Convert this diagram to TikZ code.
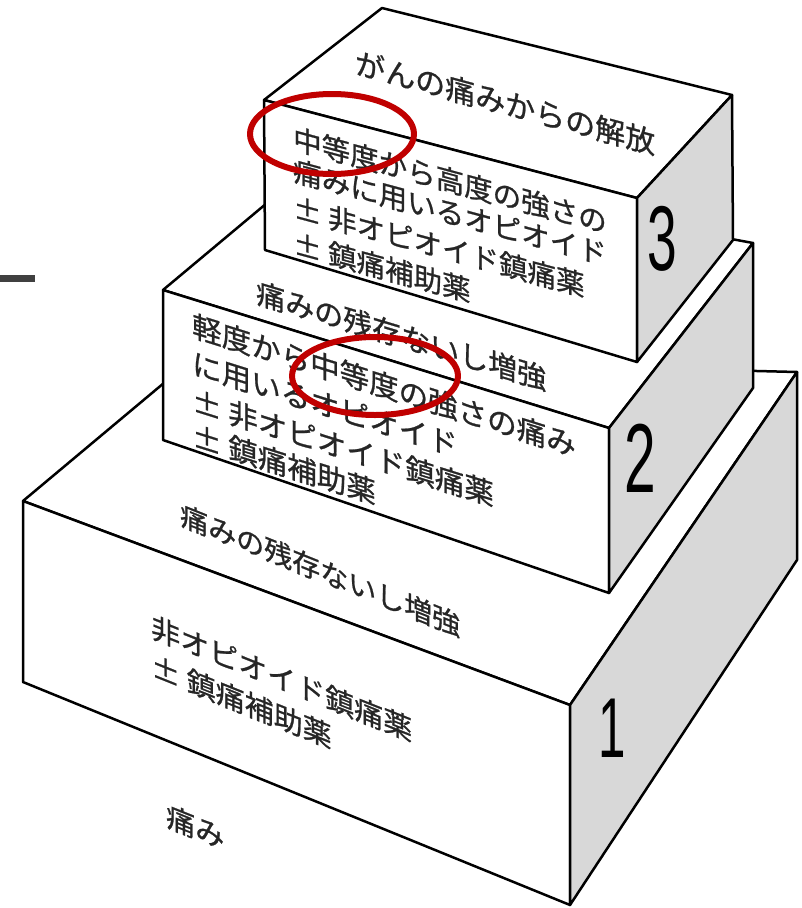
\documentclass[tikz,border=0pt]{standalone}
\usepackage{fontspec}
\newfontfamily\jpfont[FakeBold=0.8]{Noto Sans CJK JP}
\newfontfamily\numfont{Liberation Sans}
\definecolor{sidegray}{RGB}{216,216,216}
\definecolor{ringred}{RGB}{192,0,0}
\definecolor{bardark}{RGB}{64,64,64}
\begin{document}
\begin{tikzpicture}[x=1pt,y=-1pt,line join=round,
  face/.style={draw=black,line width=2.5pt,fill=white},
  sideface/.style={draw=black,line width=2.5pt,fill=sidegray},
  jt/.style={font=\jpfont\fontsize{#1}{#1}\selectfont,inner sep=0pt,anchor=west,text=black!85},
  digit/.style={font=\numfont\fontsize{#1}{#1}\selectfont,inner sep=0pt,text=black,xscale=0.58},
  ring/.style={draw=ringred,line width=6pt}]
\useasboundingbox (0,0) rectangle (802,908);

% box 1 corners
\coordinate (A1) at (23,501);
\coordinate (B1) at (570,705);
\coordinate (C1) at (570,905);
\coordinate (D1) at (23,682);
\coordinate (E1) at (195,357);
\coordinate (F1) at (797,372);
\coordinate (G1) at (797,560);
% box 2 corners
\coordinate (A2) at (163,290);
\coordinate (B2) at (609,428);
\coordinate (C2) at (609,593);
\coordinate (D2) at (163,440);
\coordinate (E2) at (316,162);
\coordinate (F2) at (753,243);
\coordinate (G2) at (753,388);
% box 3 corners
\coordinate (A3) at (264,100);
\coordinate (B3) at (637,198);
\coordinate (C3) at (637,362);
\coordinate (D3) at (265,250);
\coordinate (E3) at (382,8);
\coordinate (F3) at (732,95);
\coordinate (G3) at (733,240);

\fill[bardark] (0,275) rectangle (35,282);

% box 1
\draw[face] (A1) -- (E1) -- (F1) -- (B1) -- cycle;
\draw[face] (A1) -- (B1) -- (C1) -- (D1) -- cycle;
\draw[sideface] (B1) -- (F1) -- (G1) -- (C1) -- cycle;
% box 2
\draw[face] (A2) -- (E2) -- (F2) -- (B2) -- cycle;
\draw[face] (A2) -- (B2) -- (C2) -- (D2) -- cycle;
\draw[sideface] (B2) -- (F2) -- (G2) -- (C2) -- cycle;
% box 3
\draw[face] (A3) -- (E3) -- (F3) -- (B3) -- cycle;
\draw[face] (A3) -- (B3) -- (C3) -- (D3) -- cycle;
\draw[sideface] (B3) -- (F3) -- (G3) -- (C3) -- cycle;

% texts box 3
\node[jt=30,yslant=-0.27] (t3top) at (355,62) {がんの痛みからの解放};
\node[jt=28.5,yslant=-0.27] (t3a) at (293,138) {中等度から高度の強さの};
\node[jt=28.5,yslant=-0.27] (t3b) at (293,170) {痛みに用いるオピオイド};
\node[jt=28.5,yslant=-0.27] (t3c) at (293,207) {± 非オピオイド鎮痛薬};
\node[jt=28.5,yslant=-0.27] (t3d) at (293,243) {± 鎮痛補助薬};
% texts box 2
\node[jt=29,yslant=-0.30] (t2top) at (256,292) {痛みの残存ないし増強};
\node[jt=29.5,yslant=-0.314] (t2a) at (192,325) {軽度から中等度の強さの痛み};
\node[jt=29.5,yslant=-0.314] (t2b) at (192,363) {に用いるオピオイド};
\node[jt=29.5,yslant=-0.314] (t2c) at (192,400) {± 非オピオイド鎮痛薬};
\node[jt=29.5,yslant=-0.314] (t2d) at (192,435) {± 鎮痛補助薬};
% texts box 1
\node[jt=28,yslant=-0.40] (t1top) at (180,514) {痛みの残存ないし増強};
\node[jt=29,yslant=-0.40] (t1a) at (151,626) {非オピオイド鎮痛薬};
\node[jt=29,yslant=-0.40] (t1b) at (151,665) {± 鎮痛補助薬};
\node[jt=29,yslant=-0.40] (t1c) at (166,815) {痛み};

% step numbers
\node[digit=92] (n3) at (662,239) {3};
\node[digit=98] (n2) at (640,458) {2};
\node[digit=85] (n1) at (612,728) {1};

% red rings
\draw[ring] (332,134) ellipse [x radius=82,y radius=40];
\draw[ring] (375,376) ellipse [x radius=83,y radius=39];
\end{tikzpicture}
\end{document}
